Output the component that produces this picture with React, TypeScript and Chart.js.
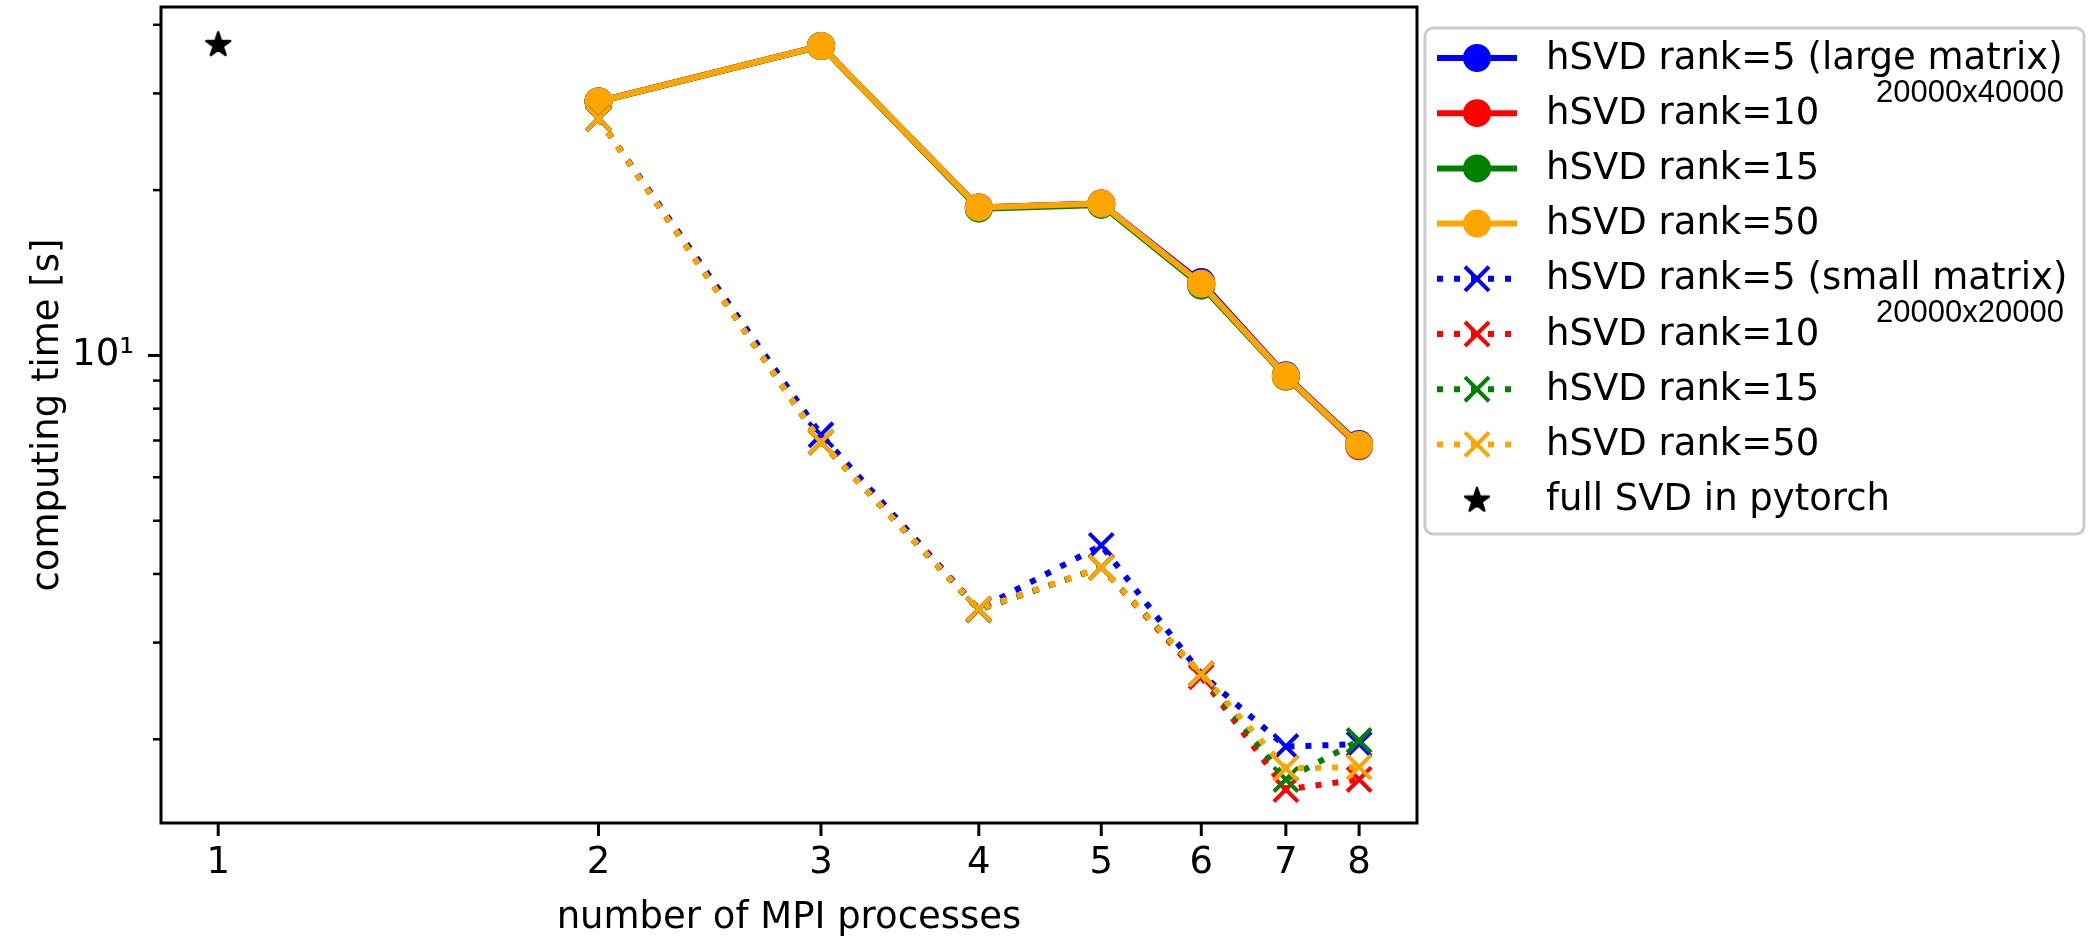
import React, { useEffect, useRef } from 'react';
import { Chart, registerables } from 'chart.js';

Chart.register(...registerables);

// ---------------- data ----------------
const procs = [2, 3, 4, 5, 6, 7, 8];

// large matrix 20000x40000 (solid, circles)
const largeRank5 = [29.0, 36.6, 18.6, 18.9, 13.6, 9.2, 6.9];
const largeRank10 = [29.0, 36.6, 18.6, 18.9, 13.5, 9.15, 6.83];
const largeRank15 = [29.0, 36.6, 18.5, 18.8, 13.4, 9.15, 6.87];
const largeRank50 = [29.0, 36.6, 18.6, 18.9, 13.5, 9.17, 6.87];

// small matrix 20000x20000 (dotted, crosses)
const smallRank5 = [27.0, 7.17, 3.45, 4.51, 2.63, 1.94, 1.96];
const smallRank10 = [27.0, 6.95, 3.45, 4.11, 2.6, 1.62, 1.69];
const smallRank15 = [27.0, 6.95, 3.44, 4.11, 2.63, 1.69, 1.99];
const smallRank50 = [27.0, 6.95, 3.45, 4.11, 2.63, 1.77, 1.78];

// full SVD in pytorch
const fullSvdProcs = [1];
const fullSvdTime = [36.9];

const largeLabels = ['hSVD rank=5 (large matrix)', 'hSVD rank=10', 'hSVD rank=15', 'hSVD rank=50'];
const smallLabels = ['hSVD rank=5 (small matrix)', 'hSVD rank=10', 'hSVD rank=15', 'hSVD rank=50'];
const fullLabel = 'full SVD in pytorch';
const legendNotes = ['20000x40000', '', '', '', '20000x20000', '', '', '', ''];

const xTickValues = [1, 2, 3, 4, 5, 6, 7, 8];
const yTickValues = [2, 3, 4, 5, 6, 7, 8, 9, 10, 20, 30, 40];
const yMajorTicks = [10];

const xTitle = 'number of MPI processes';
const yTitle = 'computing time [s]';

const seriesColors = ['#0000ff', '#ff0000', '#008000', '#ffa500'];

// ---------------- helpers ----------------
const FONT = "'DejaVu Sans'";
const FS = 37;

function makeStar(size: number): HTMLCanvasElement {
  const c = document.createElement('canvas');
  c.width = size;
  c.height = size;
  const g = c.getContext('2d')!;
  const cx = size / 2;
  const cy = size / 2 + 0.8;
  const R = size / 2 - 1.5;
  const r = R * 0.381;
  g.beginPath();
  for (let k = 0; k < 10; k++) {
    const ang = -Math.PI / 2 + (k * Math.PI) / 5;
    const rad = k % 2 === 0 ? R : r;
    const px = cx + rad * Math.cos(ang);
    const py = cy + rad * Math.sin(ang);
    if (k === 0) g.moveTo(px, py);
    else g.lineTo(px, py);
  }
  g.closePath();
  g.fillStyle = '#000';
  g.fill();
  g.lineJoin = 'round';
  g.lineWidth = 2.5;
  g.strokeStyle = '#000';
  g.stroke();
  return c;
}

function drawMarker(ctx: CanvasRenderingContext2D, ds: any, x: number, y: number) {
  const style = ds.pointStyle;
  ctx.save();
  ctx.setLineDash([]);
  if (style === 'circle') {
    ctx.beginPath();
    ctx.arc(x, y, ds.pointRadius, 0, Math.PI * 2);
    ctx.fillStyle = ds.pointBackgroundColor;
    ctx.fill();
    ctx.lineWidth = ds.pointBorderWidth;
    ctx.strokeStyle = ds.pointBorderColor;
    ctx.stroke();
  } else if (style === 'crossRot') {
    const h = ds.pointRadius * Math.SQRT1_2;
    ctx.beginPath();
    ctx.moveTo(x - h, y - h);
    ctx.lineTo(x + h, y + h);
    ctx.moveTo(x + h, y - h);
    ctx.lineTo(x - h, y + h);
    ctx.lineWidth = ds.pointBorderWidth;
    ctx.strokeStyle = ds.pointBorderColor;
    ctx.lineCap = 'butt';
    ctx.stroke();
  } else if (style instanceof HTMLCanvasElement) {
    ctx.drawImage(style, x - style.width / 2, y - style.height / 2);
  }
  ctx.restore();
}

const framePlugin = {
  id: 'mplFrame',
  afterDatasetsDraw(chart: any) {
    const { ctx, chartArea } = chart;
    const { left, right, top, bottom } = chartArea;
    ctx.save();
    ctx.strokeStyle = '#000';
    ctx.setLineDash([]);
    const xs = chart.scales.x;
    ctx.lineWidth = 3;
    xTickValues.forEach((v) => {
      const px = xs.getPixelForValue(v);
      ctx.beginPath();
      ctx.moveTo(px, bottom);
      ctx.lineTo(px, bottom + 13);
      ctx.stroke();
    });
    const ys = chart.scales.y;
    yTickValues.forEach((v) => {
      const py = ys.getPixelForValue(v);
      const major = yMajorTicks.includes(v);
      ctx.lineWidth = major ? 3 : 2.5;
      ctx.beginPath();
      ctx.moveTo(left, py);
      ctx.lineTo(left - (major ? 13 : 8), py);
      ctx.stroke();
    });
    ctx.lineWidth = 3;
    ctx.strokeRect(left, top, right - left, bottom - top);
    ctx.restore();
  },
};

const legendPlugin = {
  id: 'mplLegend',
  afterDraw(chart: any) {
    const { ctx, chartArea } = chart;
    const bx = chartArea.right + 8;
    const by = chartArea.top + 21;
    const bw = 659;
    const bh = 506;
    ctx.save();
    ctx.beginPath();
    ctx.roundRect(bx, by, bw, bh, 8);
    ctx.fillStyle = 'rgba(255,255,255,0.8)';
    ctx.fill();
    ctx.lineWidth = 3;
    ctx.strokeStyle = '#cccccc';
    ctx.stroke();

    chart.data.datasets.forEach((ds: any, i: number) => {
      const y = by + 30 + i * 55.2;
      const x0 = bx + 12;
      const x1 = bx + 92;
      const xm = (x0 + x1) / 2;
      if (ds.showLine !== false) {
        ctx.beginPath();
        ctx.setLineDash(ds.borderDash || []);
        ctx.lineWidth = ds.borderWidth;
        ctx.strokeStyle = ds.borderColor;
        ctx.lineCap = 'butt';
        ctx.moveTo(x0, y);
        ctx.lineTo(x1, y);
        ctx.stroke();
        ctx.setLineDash([]);
      }
      drawMarker(ctx, ds, xm, y);
      ctx.fillStyle = '#000';
      ctx.font = `${FS}px ${FONT}`;
      ctx.textAlign = 'left';
      ctx.textBaseline = 'middle';
      ctx.fillText(ds.label, bx + 121, y + 1);
      const note = legendNotes[i];
      if (note) {
        ctx.font = `31px 'Liberation Sans'`;
        ctx.textAlign = 'right';
        ctx.fillText(note, bx + bw - 20, y + 35);
      }
    });
    ctx.restore();
  },
};

function zeroPadding(s: any) {
  s.paddingTop = 0;
  s.paddingBottom = 0;
  s.paddingLeft = 0;
  s.paddingRight = 0;
}

export default function App() {
  const canvasRef = useRef<HTMLCanvasElement | null>(null);

  useEffect(() => {
    if (!canvasRef.current) return;
    const starImg = makeStar(28);

    const datasets: any[] = [];
    [largeRank5, largeRank10, largeRank15, largeRank50].forEach((vals, k) => {
      datasets.push({
        label: largeLabels[k],
        data: procs.map((p, j) => ({ x: p, y: vals[j] })),
        borderColor: seriesColors[k],
        backgroundColor: seriesColors[k],
        borderWidth: 6,
        borderJoinStyle: 'round',
        borderCapStyle: 'square',
        pointStyle: 'circle',
        pointRadius: 13,
        pointBorderWidth: 2,
        pointBackgroundColor: seriesColors[k],
        pointBorderColor: seriesColors[k],
        tension: 0,
        fill: false,
      });
    });
    [smallRank5, smallRank10, smallRank15, smallRank50].forEach((vals, k) => {
      datasets.push({
        label: smallLabels[k],
        data: procs.map((p, j) => ({ x: p, y: vals[j] })),
        borderColor: seriesColors[k],
        backgroundColor: seriesColors[k],
        borderWidth: 6,
        borderDash: [6, 11],
        borderCapStyle: 'butt',
        pointStyle: 'crossRot',
        pointRadius: 17,
        pointBorderWidth: 4,
        pointBackgroundColor: seriesColors[k],
        pointBorderColor: seriesColors[k],
        tension: 0,
        fill: false,
      });
    });
    datasets.push({
      label: fullLabel,
      data: fullSvdProcs.map((p, j) => ({ x: p, y: fullSvdTime[j] })),
      showLine: false,
      borderColor: '#000',
      backgroundColor: '#000',
      pointStyle: starImg,
      pointRadius: 13,
    });
    datasets.forEach((d, i) => {
      d.order = datasets.length - i;
    });

    const chart = new Chart(canvasRef.current, {
      type: 'line',
      data: { datasets },
      plugins: [framePlugin, legendPlugin],
      options: {
        animation: false,
        responsive: false,
        devicePixelRatio: 1,
        events: [],
        layout: { autoPadding: false, padding: { left: 0, top: 7, right: 671, bottom: 0 } },
        plugins: {
          legend: { display: false },
          title: { display: false },
          tooltip: { enabled: false },
        },
        scales: {
          x: {
            type: 'logarithmic',
            position: 'bottom',
            min: 0.901,
            max: 8.89,
            grid: { display: false, drawTicks: false },
            border: { display: false },
            afterBuildTicks: (s: any) => {
              s.ticks = xTickValues.map((v) => ({ value: v }));
            },
            afterFit: (s: any) => {
              s.height = 114;
              zeroPadding(s);
            },
            ticks: {
              autoSkip: false,
              maxRotation: 0,
              minRotation: 0,
              padding: 18,
              color: '#000',
              font: { family: FONT, size: FS },
              callback: (v: any) => String(v),
            },
            title: {
              display: true,
              text: xTitle,
              color: '#000',
              font: { family: FONT, size: FS },
              padding: { top: 0, bottom: -4 },
            },
          },
          y: {
            type: 'logarithmic',
            position: 'left',
            min: 1.408,
            max: 43.1,
            grid: { display: false, drawTicks: false },
            border: { display: false },
            afterBuildTicks: (s: any) => {
              s.ticks = yTickValues.map((v) => ({ value: v, major: yMajorTicks.includes(v) }));
            },
            afterFit: (s: any) => {
              s.width = 161;
              zeroPadding(s);
            },
            ticks: {
              autoSkip: false,
              padding: 27,
              color: '#000',
              font: { family: FONT, size: FS },
              callback: (v: any) => (yMajorTicks.includes(Number(v)) ? '10\u00B9' : ''),
            },
            title: {
              display: true,
              text: yTitle,
              color: '#000',
              font: { family: FONT, size: FS },
              padding: { top: 26, bottom: 0 },
            },
          },
        },
      } as any,
    });
    return () => chart.destroy();
  }, []);

  return (
    <div style={{ position: 'fixed', left: 0, top: 0, width: 2088, height: 937, background: '#fff' }}>
      <canvas ref={canvasRef} width={2088} height={937} style={{ display: 'block' }} />
    </div>
  );
}
